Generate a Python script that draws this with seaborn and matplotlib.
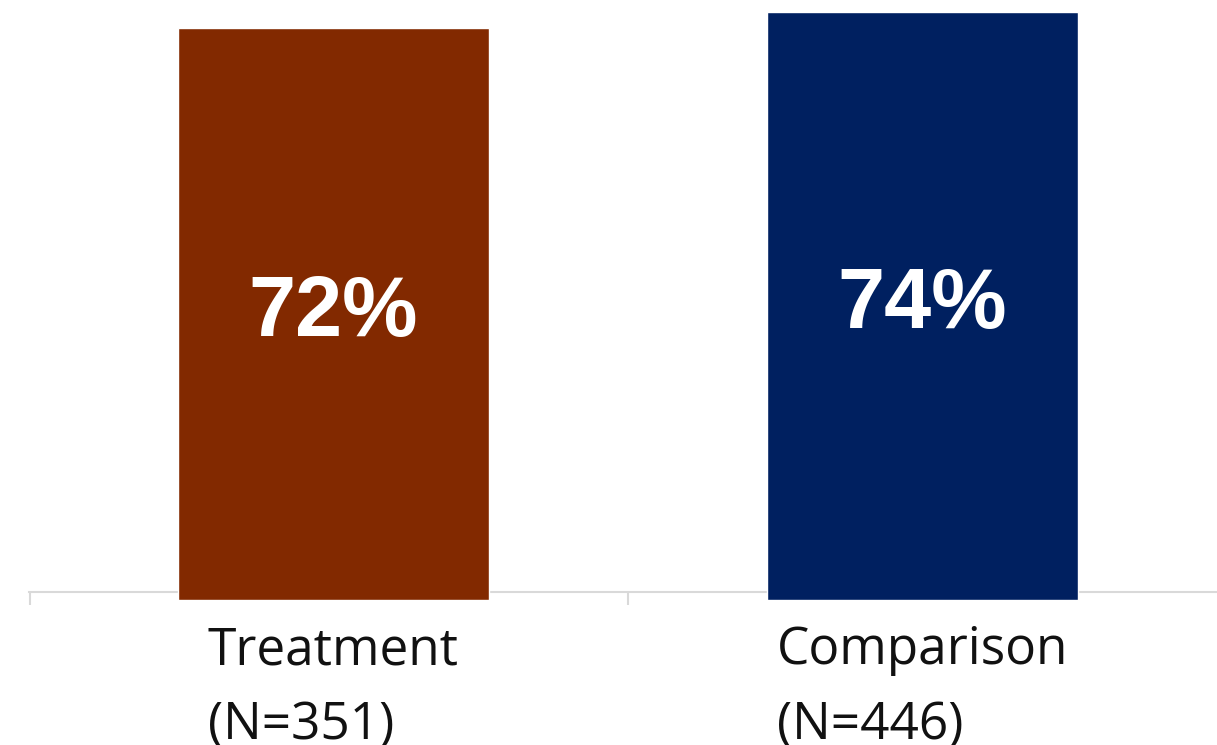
import matplotlib
matplotlib.use("Agg")
import matplotlib.pyplot as plt
import seaborn as sns
import pandas as pd

# data
groups = ["Treatment\n(N=351)", "Comparison\n(N=446)"]
percents = [72, 74]
colors = ["#822900", "#002060"]

df = pd.DataFrame({"grupo": groups, "pct": percents})

sns.set_style("white")

fig = plt.figure(figsize=(12.17, 7.45), dpi=100)
ax = fig.add_axes([29 / 1217, 145 / 745, 1188 / 1217, 600 / 745])

sns.barplot(data=df, x="grupo", y="pct", hue="grupo", palette=colors,
            width=0.528, saturation=1, legend=False, ax=ax)

ax.set_ylim(0, 75.5)
ax.set_xlim(-0.516, 1.5)

# valores dentro das barras
for cont in ax.containers:
    ax.bar_label(cont, fmt="{:.0f}%", label_type="center", color="white",
                 fontsize=61, fontweight="bold", family="Liberation Sans")

# eixo: so a linha de baixo, cinza claro
for s in ["top", "left", "right"]:
    ax.spines[s].set_visible(False)
ax.spines["bottom"].set_position(("data", 1))
ax.spines["bottom"].set_color("#d9d9d9")
ax.spines["bottom"].set_linewidth(1.5)
ax.spines["bottom"].set_zorder(0.5)

ax.set_yticks([])
ax.set_xlabel("")
ax.set_ylabel("")
ax.set_xticks([-0.514, 0.5], minor=True)
ax.tick_params(axis="x", which="minor", bottom=True, length=9, width=1.5,
               color="#d9d9d9", direction="out")
ax.tick_params(axis="x", which="major", bottom=True, length=0, pad=24)
for lbl in ax.get_xticklabels():
    lbl.set_fontsize(37)
    lbl.set_family("Open Sans")
    lbl.set_multialignment("left")
    lbl.set_linespacing(1.6)
    lbl.set_verticalalignment("top")
    lbl.set_color("#111111")

fig.savefig("out.png", dpi=100)
